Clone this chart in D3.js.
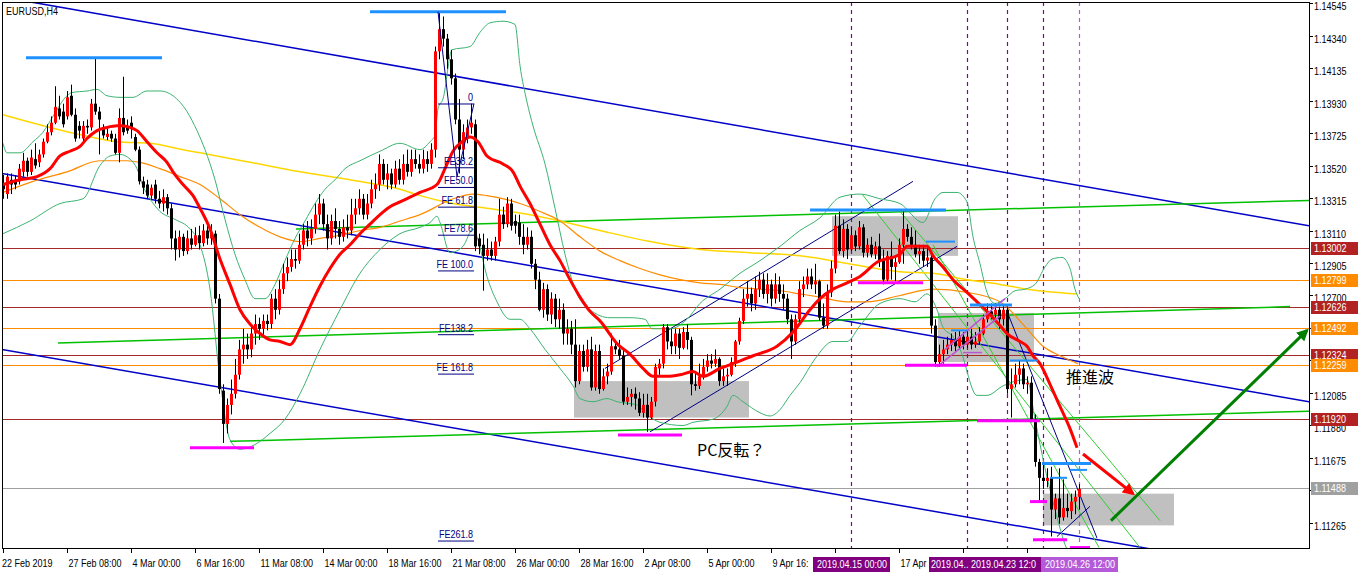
<!DOCTYPE html>
<html><head><meta charset="utf-8">
<script src="https://cdn.jsdelivr.net/npm/d3@7"></script>
<style>body{margin:0;background:#fff;}svg{display:block;}</style>
</head><body><svg id="c" width="1362" height="576"></svg>
<script>
// ---------- DATA ----------
const open=[
1.1340,1.1334,1.1343,1.1343,1.1342,1.1348,1.1355,1.1348,1.1356,1.1354,
1.1359,1.1367,1.1373,1.1379,1.1388,1.1386,1.1383,1.1396,1.1384,1.1377,
1.1369,1.1377,1.1376,1.1391,1.1386,1.1376,1.1370,1.1372,1.1369,1.1360,
1.1382,1.1377,1.1379,1.1370,1.1362,1.1342,1.1340,1.1333,1.1340,1.1331,
1.1328,1.1332,1.1325,1.1306,1.1299,1.1307,1.1298,1.1306,1.1302,1.1308,
1.1303,1.1311,1.1306,1.1309,1.1268,1.1210,1.1189,1.1201,1.1208,1.1220,
1.1236,1.1239,1.1236,1.1246,1.1252,1.1249,1.1254,1.1252,1.1268,1.1261,
1.1274,1.1284,1.1288,1.1293,1.1292,1.1302,1.1311,1.1306,1.1312,1.1321,
1.1328,1.1315,1.1306,1.1317,1.1312,1.1307,1.1313,1.1311,1.1321,1.1325,
1.1331,1.1321,1.1328,1.1337,1.1340,1.1353,1.1343,1.1347,1.1340,1.1350,
1.1343,1.1353,1.1348,1.1356,1.1353,1.1350,1.1356,1.1353,1.1362,1.1424,
1.1438,1.1432,1.1419,1.1407,1.1381,1.1362,1.1370,1.1376,1.1378,1.1306,
1.1302,1.1295,1.1299,1.1295,1.1304,1.1321,1.1315,1.1328,1.1317,1.1316,
1.1307,1.1302,1.1307,1.1290,1.1280,1.1261,1.1274,1.1258,1.1268,1.1255,
1.1261,1.1246,1.1249,1.1239,1.1216,1.1235,1.1225,1.1236,1.1212,1.1235,
1.1211,1.1219,1.1222,1.1238,1.1236,1.1232,1.1203,1.1206,1.1208,1.1205,
1.1196,1.1201,1.1193,1.1203,1.1224,1.1227,1.1250,1.1241,1.1238,1.1246,
1.1237,1.1247,1.1242,1.1214,1.1213,1.1219,1.1225,1.1229,1.1227,1.1230,
1.1216,1.1219,1.1220,1.1228,1.1241,1.1254,1.1268,1.1271,1.1265,1.1274,
1.1280,1.1271,1.1277,1.1268,1.1277,1.1271,1.1268,1.1255,1.1241,1.1255,
1.1274,1.1277,1.1282,1.1277,1.1279,1.1256,1.1251,1.1272,1.1287,1.1314,
1.1298,1.1312,1.1299,1.1308,1.1301,1.1313,1.1297,1.1302,1.1296,1.1301,
1.1292,1.1280,1.1295,1.1288,1.1291,1.1302,1.1312,1.1307,1.1302,1.1296,
1.1298,1.1292,1.1294,1.1251,1.1228,1.1233,1.1236,1.1239,1.1242,1.1238,
1.1244,1.1239,1.1244,1.1239,1.1241,1.1246,1.1255,1.1260,1.1258,1.1261,
1.1255,1.1261,1.1211,1.1214,1.1220,1.1224,1.1214,1.1215,1.1192,1.1165,
1.1155,1.1153,1.1155,1.1135,1.1142,1.1130,1.1136,1.1134,1.1140,1.1143];
const high=[
1.1346,1.1347,1.1347,1.1346,1.1353,1.1360,1.1357,1.1362,1.1366,1.1362,
1.1369,1.1378,1.1383,1.1402,1.1396,1.1391,1.1399,1.1403,1.1388,1.1380,
1.1380,1.1381,1.1394,1.1420,1.1389,1.1378,1.1375,1.1374,1.1372,1.1388,
1.1408,1.1381,1.1383,1.1372,1.1364,1.1345,1.1343,1.1340,1.1343,1.1336,
1.1337,1.1334,1.1328,1.1311,1.1311,1.1309,1.1311,1.1312,1.1313,1.1314,
1.1315,1.1316,1.1315,1.1311,1.1271,1.1214,1.1205,1.1217,1.1230,1.1242,
1.1249,1.1246,1.1252,1.1258,1.1256,1.1258,1.1258,1.1271,1.1274,1.1280,
1.1290,1.1294,1.1299,1.1299,1.1309,1.1315,1.1317,1.1318,1.1328,1.1334,
1.1331,1.1321,1.1321,1.1325,1.1317,1.1318,1.1321,1.1331,1.1331,1.1337,
1.1334,1.1334,1.1343,1.1347,1.1359,1.1356,1.1353,1.1350,1.1355,1.1356,
1.1359,1.1362,1.1362,1.1362,1.1359,1.1362,1.1361,1.1366,1.1427,1.1449,
1.1446,1.1435,1.1425,1.1410,1.1394,1.1378,1.1381,1.1391,1.1381,1.1309,
1.1309,1.1306,1.1304,1.1307,1.1331,1.1326,1.1332,1.1331,1.1321,1.1321,
1.1315,1.1313,1.1311,1.1293,1.1285,1.1278,1.1277,1.1272,1.1271,1.1268,
1.1265,1.1255,1.1254,1.1255,1.1239,1.1239,1.1242,1.1244,1.1239,1.1239,
1.1224,1.1227,1.1246,1.1242,1.1242,1.1236,1.1212,1.1211,1.1212,1.1209,
1.1208,1.1208,1.1206,1.1227,1.1230,1.1252,1.1252,1.1249,1.1249,1.1249,
1.1250,1.1252,1.1244,1.1222,1.1227,1.1230,1.1233,1.1233,1.1236,1.1231,
1.1224,1.1224,1.1231,1.1242,1.1256,1.1274,1.1279,1.1275,1.1282,1.1285,
1.1284,1.1284,1.1280,1.1284,1.1282,1.1277,1.1271,1.1258,1.1258,1.1279,
1.1282,1.1287,1.1287,1.1290,1.1280,1.1265,1.1277,1.1292,1.1321,1.1323,
1.1318,1.1315,1.1313,1.1311,1.1317,1.1315,1.1306,1.1307,1.1304,1.1309,
1.1299,1.1298,1.1304,1.1294,1.1306,1.1323,1.1315,1.1313,1.1311,1.1302,
1.1302,1.1301,1.1296,1.1255,1.1239,1.1242,1.1244,1.1246,1.1247,1.1248,
1.1247,1.1248,1.1249,1.1247,1.1250,1.1258,1.1265,1.1265,1.1265,1.1263,
1.1264,1.1263,1.1224,1.1227,1.1229,1.1227,1.1219,1.1219,1.1195,1.1167,
1.1164,1.1161,1.1162,1.1145,1.1161,1.1154,1.1145,1.1145,1.1147,1.1151];
const low=[
1.1331,1.1331,1.1334,1.1337,1.1340,1.1345,1.1345,1.1346,1.1350,1.1351,
1.1357,1.1366,1.1371,1.1378,1.1381,1.1376,1.1381,1.1383,1.1367,1.1369,
1.1367,1.1372,1.1374,1.1384,1.1359,1.1369,1.1368,1.1367,1.1359,1.1354,
1.1371,1.1372,1.1369,1.1361,1.1340,1.1334,1.1331,1.1331,1.1328,1.1325,
1.1323,1.1321,1.1299,1.1292,1.1294,1.1295,1.1296,1.1299,1.1301,1.1299,
1.1301,1.1302,1.1302,1.1265,1.1208,1.1177,1.1183,1.1195,1.1205,1.1217,
1.1227,1.1230,1.1231,1.1239,1.1242,1.1244,1.1248,1.1249,1.1255,1.1258,
1.1271,1.1279,1.1285,1.1287,1.1290,1.1299,1.1301,1.1302,1.1309,1.1315,
1.1311,1.1299,1.1302,1.1306,1.1302,1.1304,1.1306,1.1308,1.1315,1.1321,
1.1318,1.1318,1.1325,1.1331,1.1336,1.1340,1.1337,1.1337,1.1338,1.1340,
1.1340,1.1345,1.1345,1.1350,1.1347,1.1347,1.1348,1.1350,1.1357,1.1419,
1.1427,1.1413,1.1403,1.1378,1.1347,1.1356,1.1366,1.1372,1.1298,1.1296,
1.1273,1.1292,1.1292,1.1292,1.1301,1.1312,1.1313,1.1311,1.1309,1.1302,
1.1296,1.1299,1.1287,1.1274,1.1260,1.1256,1.1254,1.1252,1.1250,1.1249,
1.1239,1.1239,1.1233,1.1212,1.1214,1.1222,1.1222,1.1210,1.1210,1.1208,
1.1210,1.1214,1.1220,1.1233,1.1230,1.1201,1.1201,1.1200,1.1198,1.1194,
1.1193,1.1184,1.1192,1.1200,1.1220,1.1224,1.1236,1.1233,1.1233,1.1230,
1.1236,1.1236,1.1207,1.1210,1.1211,1.1217,1.1222,1.1224,1.1225,1.1213,
1.1213,1.1213,1.1219,1.1225,1.1239,1.1252,1.1263,1.1260,1.1261,1.1269,
1.1268,1.1265,1.1263,1.1265,1.1266,1.1261,1.1252,1.1230,1.1239,1.1252,
1.1269,1.1274,1.1274,1.1271,1.1254,1.1249,1.1249,1.1269,1.1284,1.1296,
1.1294,1.1293,1.1298,1.1298,1.1299,1.1294,1.1294,1.1294,1.1293,1.1288,
1.1277,1.1279,1.1280,1.1279,1.1290,1.1290,1.1304,1.1299,1.1294,1.1290,
1.1288,1.1288,1.1246,1.1225,1.1225,1.1227,1.1233,1.1235,1.1235,1.1236,
1.1236,1.1237,1.1236,1.1237,1.1239,1.1245,1.1253,1.1255,1.1256,1.1249,
1.1251,1.1208,1.1193,1.1212,1.1214,1.1211,1.1208,1.1190,1.1162,1.1140,
1.1148,1.1149,1.1118,1.1129,1.1126,1.1128,1.1130,1.1129,1.1132,1.1135];
const close=[
1.1337,1.1345,1.1340,1.1340,1.1350,1.1355,1.1348,1.1357,1.1352,1.1359,
1.1367,1.1373,1.1379,1.1389,1.1383,1.1378,1.1395,1.1384,1.1369,1.1374,
1.1377,1.1376,1.1391,1.1386,1.1381,1.1371,1.1372,1.1369,1.1360,1.1382,
1.1373,1.1374,1.1375,1.1362,1.1342,1.1338,1.1333,1.1338,1.1331,1.1328,
1.1332,1.1325,1.1306,1.1299,1.1307,1.1298,1.1306,1.1302,1.1308,1.1303,
1.1311,1.1306,1.1309,1.1268,1.1211,1.1189,1.1201,1.1208,1.1220,1.1236,
1.1239,1.1236,1.1246,1.1252,1.1249,1.1254,1.1252,1.1268,1.1261,1.1274,
1.1284,1.1288,1.1293,1.1292,1.1302,1.1311,1.1306,1.1312,1.1321,1.1328,
1.1315,1.1306,1.1317,1.1312,1.1307,1.1313,1.1311,1.1321,1.1325,1.1331,
1.1321,1.1328,1.1337,1.1340,1.1353,1.1343,1.1347,1.1340,1.1350,1.1343,
1.1353,1.1348,1.1356,1.1353,1.1350,1.1356,1.1353,1.1362,1.1424,1.1438,
1.1432,1.1419,1.1407,1.1381,1.1362,1.1373,1.1376,1.1379,1.1301,1.1301,
1.1295,1.1299,1.1295,1.1304,1.1321,1.1315,1.1328,1.1314,1.1314,1.1307,
1.1302,1.1307,1.1290,1.1280,1.1261,1.1274,1.1258,1.1268,1.1255,1.1261,
1.1246,1.1249,1.1239,1.1216,1.1235,1.1225,1.1236,1.1212,1.1235,1.1211,
1.1219,1.1222,1.1238,1.1236,1.1232,1.1203,1.1206,1.1208,1.1205,1.1196,
1.1201,1.1193,1.1203,1.1225,1.1227,1.1250,1.1241,1.1238,1.1246,1.1237,
1.1247,1.1242,1.1214,1.1213,1.1219,1.1225,1.1229,1.1227,1.1230,1.1216,
1.1219,1.1220,1.1228,1.1241,1.1254,1.1268,1.1271,1.1265,1.1274,1.1280,
1.1271,1.1277,1.1268,1.1277,1.1271,1.1268,1.1255,1.1241,1.1255,1.1274,
1.1277,1.1282,1.1277,1.1279,1.1256,1.1251,1.1272,1.1287,1.1314,1.1298,
1.1312,1.1299,1.1308,1.1301,1.1313,1.1297,1.1302,1.1296,1.1301,1.1292,
1.1280,1.1295,1.1288,1.1291,1.1302,1.1312,1.1307,1.1302,1.1296,1.1298,
1.1292,1.1294,1.1251,1.1228,1.1233,1.1236,1.1239,1.1242,1.1238,1.1244,
1.1239,1.1244,1.1239,1.1241,1.1246,1.1255,1.1260,1.1258,1.1261,1.1255,
1.1261,1.1211,1.1214,1.1220,1.1224,1.1214,1.1215,1.1192,1.1165,1.1155,
1.1153,1.1155,1.1135,1.1142,1.1130,1.1136,1.1134,1.1140,1.1143,1.1148];

// indicator lines: [bar index, price]
const maRed=[[0,1.1340],[4.25,1.1343],[8.5,1.1345],[11.75,1.1350],[14.25,1.1358],[16.75,1.1361],[19.25,1.1364],[21,1.1369],[23.5,1.1374],[26,1.1376],[28.5,1.1377],[29.75,1.1377],[31.75,1.1376],[33.5,1.1374],[36,1.1367],[38.5,1.1360],[41,1.1354],[42.5,1.1348],[45,1.1340],[47.5,1.1333],[49.25,1.1325],[51.75,1.1312],[54.25,1.1293],[56.75,1.1277],[59.25,1.1261],[61.75,1.1252],[64.25,1.1246],[66.75,1.1242],[69.25,1.1241],[71.75,1.1239],[74.25,1.1249],[76.75,1.1263],[79.25,1.1276],[81.75,1.1287],[84.25,1.1296],[86.75,1.1302],[89.25,1.1309],[91.75,1.1315],[94.25,1.1321],[96.75,1.1326],[99.25,1.1329],[101.75,1.1332],[104.25,1.1335],[108.5,1.1340],[110.5,1.1350],[112.5,1.1361],[114.75,1.1367],[116.75,1.1370],[118.75,1.1367],[121,1.1358],[125,1.1353],[127.5,1.1348],[129.25,1.1339],[131.75,1.1328],[134.25,1.1315],[136.75,1.1302],[139.25,1.1292],[141.75,1.1280],[144.25,1.1269],[146.75,1.1260],[149.25,1.1254],[153.75,1.1239],[156.75,1.1233],[160,1.1224],[162.5,1.1219],[166,1.1219],[169.25,1.1220],[172.5,1.1222],[175,1.1219],[179.25,1.1224],[183.5,1.1228],[187.5,1.1232],[193.5,1.1238],[197.5,1.1247],[201.75,1.1261],[204.25,1.1268],[207.5,1.1274],[211,1.1278],[214.25,1.1282],[218.5,1.1291],[224.25,1.1296],[226,1.1301],[231,1.1301],[232.5,1.1295],[235,1.1288],[237.5,1.1280],[241,1.1272],[243.5,1.1266],[246,1.1260],[249.25,1.1251],[251,1.1246],[254.25,1.1241],[256,1.1238],[257.5,1.1232],[259.25,1.1227],[261.75,1.1214],[264.25,1.1200],[266.75,1.1186],[268.5,1.1174]];
const bbUpper=[[0,1.1366],[1,1.1360],[4.25,1.1360],[7.5,1.1367],[10,1.1373],[12.5,1.1383],[16,1.1396],[17.25,1.1398],[21,1.1399],[23.5,1.1400],[26,1.1396],[29.25,1.1395],[32.5,1.1395],[36,1.1399],[39.25,1.1399],[42.5,1.1396],[46,1.1386],[48.5,1.1374],[50.5,1.1362],[53,1.1343],[55.5,1.1318],[58,1.1296],[60.5,1.1280],[63,1.1268],[65.5,1.1268],[68,1.1277],[70.5,1.1292],[73,1.1306],[75.5,1.1317],[78,1.1328],[80.5,1.1337],[83,1.1343],[85.5,1.1350],[89.25,1.1355],[94.25,1.1361],[99.25,1.1366],[104.25,1.1362],[106.75,1.1367],[108,1.1371],[108.75,1.1388],[110,1.1394],[112.25,1.1425],[116.75,1.1427],[119.25,1.1436],[121.75,1.1442],[125,1.1443],[128,1.1441],[129.25,1.1415],[131,1.1392],[132.5,1.1377],[135.5,1.1353],[138,1.1325],[140.5,1.1296],[143,1.1274],[146.75,1.1261],[151.75,1.1256],[156.75,1.1256],[160.5,1.1255],[162.25,1.1249],[166.75,1.1249],[171,1.1255],[174.25,1.1265],[179.25,1.1274],[184.25,1.1284],[189.25,1.1292],[194.25,1.1301],[199.25,1.1311],[204.25,1.1319],[209.25,1.1332],[214.25,1.1334],[219.25,1.1331],[224.25,1.1328],[230,1.1316],[233,1.1331],[235,1.1335],[238.5,1.1335],[241,1.1329],[242.5,1.1307],[244.25,1.1290],[246,1.1272],[248,1.1265],[250.5,1.1268],[253,1.1273],[255.5,1.1274],[258,1.1277],[260.5,1.1288],[262.25,1.1293],[264.75,1.1294],[266.75,1.1287],[268,1.1274],[269,1.1268]];
const bbLower=[[0,1.1309],[6.75,1.1317],[14.25,1.1328],[20,1.1331],[24.25,1.1352],[26.75,1.1358],[29.25,1.1359],[31.75,1.1356],[33.5,1.1350],[35,1.1339],[36.75,1.1331],[39.25,1.1323],[43,1.1318],[46.75,1.1312],[49.25,1.1302],[51.75,1.1274],[54.25,1.1217],[56.75,1.1179],[59.25,1.1173],[63,1.1176],[66.75,1.1183],[70.5,1.1192],[74.25,1.1208],[79.25,1.1236],[84.25,1.1261],[89.25,1.1284],[94.25,1.1299],[99.25,1.1309],[104.25,1.1313],[106.75,1.1316],[108.5,1.1320],[109.25,1.1316],[111.75,1.1297],[115,1.1301],[117.5,1.1312],[118.5,1.1307],[121,1.1282],[123.5,1.1266],[126.75,1.1255],[129.25,1.1255],[131.75,1.1249],[135.5,1.1236],[139.25,1.1224],[142.5,1.1213],[144.25,1.1205],[147.5,1.1203],[151,1.1205],[153.5,1.1203],[158.5,1.1201],[161,1.1195],[164.25,1.1190],[170,1.1188],[172.5,1.1190],[177.5,1.1192],[181,1.1200],[182.5,1.1207],[185,1.1203],[189.25,1.1196],[191.75,1.1194],[194.25,1.1198],[196.75,1.1207],[199.25,1.1215],[203,1.1230],[207.5,1.1241],[211,1.1241],[214.25,1.1251],[219.25,1.1265],[224.25,1.1268],[228,1.1266],[231,1.1271],[233.5,1.1261],[235,1.1250],[237.5,1.1244],[239.25,1.1236],[243.5,1.1207],[246,1.1207],[250,1.1213],[256,1.1217],[258,1.1192],[260.5,1.1161],[263,1.1135],[265.5,1.1113],[269,1.1097]];
const maOrange=[[0,1.1335],[7.5,1.1342],[16,1.1348],[24.25,1.1355],[31,1.1355],[34.25,1.1354],[39.25,1.1350],[44.25,1.1345],[49.25,1.1340],[54.25,1.1331],[59.25,1.1321],[64.25,1.1313],[69.25,1.1307],[74.25,1.1304],[79.25,1.1306],[84.25,1.1308],[89.25,1.1311],[94.25,1.1313],[99.25,1.1317],[104.25,1.1321],[112.5,1.1331],[117.5,1.1334],[121,1.1333],[129.25,1.1328],[134.25,1.1323],[139.25,1.1317],[144.25,1.1307],[149.25,1.1298],[154.25,1.1292],[159.25,1.1287],[164.25,1.1283],[169.25,1.1280],[174.25,1.1278],[179.25,1.1277],[184.25,1.1275],[189.25,1.1274],[194.25,1.1273],[199.25,1.1271],[204.25,1.1269],[211,1.1266],[216,1.1266],[224.25,1.1270],[232.5,1.1274],[241,1.1272],[249.25,1.1266],[256,1.1249],[260,1.1238],[264.25,1.1232],[268.75,1.1227]];
const maYellow=[[0,1.1384],[4.25,1.1381],[11.75,1.1376],[20,1.1371],[28.5,1.1367],[36.75,1.1366],[45,1.1362],[49.25,1.1360],[61.75,1.1354],[74.25,1.1348],[86.75,1.1343],[99.25,1.1337],[104.25,1.1333],[112.5,1.1328],[121,1.1325],[129.25,1.1322],[139.25,1.1317],[149.25,1.1311],[161.75,1.1304],[174.25,1.1299],[186.75,1.1297],[199.25,1.1295],[216,1.1288],[224.25,1.1285],[232.5,1.1284],[241,1.1280],[249.25,1.1277],[256,1.1274],[268.5,1.1271]];

const timeTickBars=[0,16,32,48,64,80,96,112,128,144,160,176,192,208,224,240,256];
// labels as visible in the chart (the rest lie under the date boxes)
const timeTickLabels=["22 Feb 2019","27 Feb 08:00","4 Mar 00:00","6 Mar 16:00","11 Mar 08:00","14 Mar 00:00","18 Mar 16:00","21 Mar 08:00","26 Mar 00:00","28 Mar 16:00","2 Apr 08:00","5 Apr 00:00","9 Apr 16:","","17 Apr","",""];
const priceTicks=[1.14545,1.14340,1.14135,1.13930,1.13725,1.13520,1.13315,1.13110,1.12905,1.12700,1.12495,1.12290,1.12085,1.11880,1.11675,1.11470,1.11265];
const levelPrices=[1.13002,1.12799,1.12626,1.12492,1.12324,1.12259,1.11920,1.11488];
const levelKinds=["r","o","r","o","r","o","r","g"];
// vertical time lines, in drawing order; shown = part of the label left visible
const vlineBars=[212,241,260,251,269];
const vlineShown=["2019.04.15 00:00","2019.04..","","2019.04.23 12:0","2019.04.26 12:00"];
const vlineKinds=["d","d","d","d","l"];
const feLevels=[0,38.2,50,61.8,78.6,100,138.2,161.8,261.8];
const feLabels=["0","FE38.2","FE50.0","FE 61.8","FE78.6","FE 100.0","FE138.2","FE 161.8","FE261.8"];
const feBase=[1.13908,1.12855];
const feSpan=[108.75,117.75];
const feWave=[[108.75,1.1449],[113.5,1.1345],[117.75,1.1391]];
const channelLines=[[[7.25,1.1455],[326.5,1.1314]],[[-0.25,1.1347],[326.5,1.1203]],[[-0.25,1.1236],[291.75,1.1108]]];
const navyLines=[[[150.5,1.1224],[227.5,1.1342]],[[161.75,1.1184],[238.5,1.1301]],[[251,1.1260],[273.5,1.1117]],[[263.5,1.1118],[271.75,1.1137]]];
const greenLines=[[[73.25,1.1312],[326.5,1.1330]],[[13.75,1.1240],[321.75,1.1263]],[[56.75,1.1178],[326.5,1.1197]]];
const limeLines=[[[214.75,1.1334],[284.25,1.1111]],[[224.25,1.1323],[289.25,1.1128]],[[232.5,1.1302],[274,1.1111]]];
const boxes=[[142.75,186.5,1.1216,1.1193],[207.25,238.75,1.1320,1.1295],[233.75,257.75,1.1259,1.1228],[260,292.75,1.1145,1.1125]];
const blueSegs=[[5.75,39.75,1.1420],[91.75,125.75,1.1449],[201.75,235.75,1.1324],[241.75,252.25,1.1264],[259.75,272,1.1164]];
const skySegs=[[230.75,238,1.1304],[237,241,1.1248],[251.75,258.75,1.1229],[266.75,271,1.1160],[261.75,266,1.1155]];
const magSegs=[[46.75,62.75,1.1174],[153.75,169.75,1.1182],[213.75,230,1.1278],[225.5,241,1.1226],[243.5,259.25,1.1191],[256.75,261,1.1140],[257.5,266,1.1116],[266.75,271.75,1.1111]];
const orchidLines=[[[240,1.1234],[244.75,1.1234]],[[233.5,1.1225],[249.25,1.1257]],[[235.5,1.1236],[250.5,1.1268]]];
const redArrow=[[270,1.1170],[282.5,1.1145]];
const greenArrow=[[277,1.1128],[326,1.1248]];
const notes=[{t:"推進波",i:265.75,p:1.1215},{t:"PC反転？",i:173.5,p:1.1169}];

// ---------- DRAW ----------
const W=1362,H=576,X0=2,Y0=2,X1=1309,Y1=548;
const svg=d3.select('#c');
const x=d3.scaleLinear().domain([0,326]).range([3,1307]);
const y=d3.scaleLinear().domain([1.14545,1.11265]).range([3,523]);
svg.append('rect').attr('width',W).attr('height',H).attr('fill','#fff');
const defs=svg.append('defs');
defs.append('clipPath').attr('id','clip').append('rect').attr('x',X0).attr('y',Y0).attr('width',X1-X0).attr('height',Y1-Y0);
function marker(id,col){defs.append('marker').attr('id',id).attr('viewBox','0 0 10 10').attr('refX',8).attr('refY',5)
 .attr('markerWidth',4).attr('markerHeight',4).attr('orient','auto').attr('markerUnits','strokeWidth')
 .append('path').attr('d','M0,0L10,5L0,10z').attr('fill',col);}
marker('ar','#ff0000');marker('ag','#008000');
const g=svg.append('g').attr('clip-path','url(#clip)');
const ff='"Liberation Sans",Arial,sans-serif';
function mtText(par,tx,ty,str,col,anchor){
  return par.append('text').attr('transform',`translate(${tx},${ty}) scale(0.82,1)`).attr('font-family',ff)
   .attr('font-size',11).attr('fill',col||'#000').attr('text-anchor',anchor||'start').text(str);}
function seg(a,b,col,w,dash,mk){const l=g.append('line').attr('x1',x(a[0])).attr('y1',y(a[1])).attr('x2',x(b[0])).attr('y2',y(b[1]))
  .attr('stroke',col).attr('stroke-width',w);if(dash)l.attr('stroke-dasharray',dash);if(mk)l.attr('marker-end',`url(#${mk})`);return l;}

// boxes (background)
boxes.forEach(b=>g.append('rect').attr('x',x(b[0])).attr('y',y(b[2])).attr('width',x(b[1])-x(b[0])).attr('height',y(b[3])-y(b[2])).attr('fill','#c0c0c0'));

// horizontal level lines
const lvlCol={r:'#a52a2a',o:'#ff8c00',g:'#a0a0a0'};
levelPrices.forEach((p,k)=>g.append('line').attr('x1',X0).attr('x2',X1).attr('y1',Math.round(y(p))+0.5).attr('y2',Math.round(y(p))+0.5).attr('stroke',lvlCol[levelKinds[k]]).attr('stroke-width',1));

// vertical dashed lines
const vCol={d:'#8b008b',l:'#b45ad8'};
vlineBars.forEach((b,k)=>g.append('line').attr('x1',Math.round(x(b))+0.5).attr('x2',Math.round(x(b))+0.5).attr('y1',Y0).attr('y2',Y1)
  .attr('stroke',vCol[vlineKinds[k]]).attr('stroke-width',1.2).attr('stroke-dasharray','4,4'));

// long trend lines
channelLines.forEach(l=>seg(l[0],l[1],'#0000c8',1.5));
greenLines.forEach(l=>seg(l[0],l[1],'#00c000',1.5));
limeLines.forEach(l=>seg(l[0],l[1],'#32cd32',1));
navyLines.forEach(l=>seg(l[0],l[1],'#000080',1));

// indicators
const ln=d3.line().x(d=>x(d[0])).y(d=>y(d[1])).curve(d3.curveMonotoneX);
g.append('path').attr('d',ln(maYellow)).attr('fill','none').attr('stroke','#ffd700').attr('stroke-width',1.5);
g.append('path').attr('d',ln(maOrange)).attr('fill','none').attr('stroke','#ff8c00').attr('stroke-width',1.2);
g.append('path').attr('d',ln(bbUpper)).attr('fill','none').attr('stroke','#3cb371').attr('stroke-width',1);
g.append('path').attr('d',ln(bbLower)).attr('fill','none').attr('stroke','#3cb371').attr('stroke-width',1);

// candles
const cg=g.append('g');
open.forEach((o,i)=>{
  const xc=Math.round(x(i)), c=close[i], bull=c>o;
  cg.append('line').attr('x1',xc+0.5).attr('x2',xc+0.5).attr('y1',y(high[i])).attr('y2',y(low[i])).attr('stroke','#000').attr('stroke-width',1);
  const t=Math.min(y(o),y(c)), h=Math.max(1,Math.abs(y(o)-y(c)));
  cg.append('rect').attr('x',xc-1).attr('width',3).attr('y',t).attr('height',h).attr('fill',bull?'#ff0000':'#000');
});

// red MA on top of candles
g.append('path').attr('d',ln(maRed)).attr('fill','none').attr('stroke','#ff0000').attr('stroke-width',3);

// orchid lines
orchidLines.forEach(l=>seg(l[0],l[1],'#ba55d3',1.5));
// segments
blueSegs.forEach(s=>seg([s[0],s[2]],[s[1],s[2]],'#1e90ff',3));
skySegs.forEach(s=>seg([s[0],s[2]],[s[1],s[2]],'#1e90ff',2));
magSegs.forEach(s=>seg([s[0],s[2]],[s[1],s[2]],'#ff00ff',3));

// Fibonacci expansion
seg(feWave[0],feWave[1],'#000080',1);seg(feWave[1],feWave[2],'#000080',1);
feLevels.forEach((lv,k)=>{
  const p=feBase[0]+(feBase[1]-feBase[0])*lv/100;
  seg([feSpan[0],p],[feSpan[1],p],'#000080',1);
  mtText(g,x(feSpan[1])-1,y(p)-3,feLabels[k],'#000080','end');
});

// arrows
seg(redArrow[0],redArrow[1],'#ff0000',3,null,'ar');
seg(greenArrow[0],greenArrow[1],'#008000',3,null,'ag');

// notes
notes.forEach(n=>g.append('text').attr('x',x(n.i)).attr('y',y(n.p)).attr('font-family','"Noto Sans CJK JP",sans-serif').attr('font-size',16).attr('fill','#000').text(n.t));

// title
mtText(svg,6,15,'EURUSD,H4','#000');

// frame
svg.append('rect').attr('x',X0+0.5).attr('y',Y0+0.5).attr('width',X1-X0).attr('height',Y1-Y0).attr('fill','none').attr('stroke','#000');

// price axis: a tick label wholly under a level box is not drawn (as in the original)
const boxRows=levelPrices.map(p=>Math.round(y(p)));
function covered(yy){for(let r=yy-3;r<=yy+3;r++){if(!boxRows.some(c=>r>=c-6&&r<=c+6))return false;}return true;}
priceTicks.forEach(p=>{const yy=Math.round(y(p))+0.5;
  svg.append('line').attr('x1',X1).attr('x2',X1+4).attr('y1',yy).attr('y2',yy).attr('stroke','#000');
  if(!covered(Math.round(y(p))+1)) mtText(svg,X1+5,yy+6,p.toFixed(5),'#000');});
const boxCol={r:'#b22222',o:'#ff8c00',g:'#a0a0a0'};
levelPrices.forEach((p,k)=>{const yy=Math.round(y(p));
  svg.append('rect').attr('x',X1+2).attr('y',yy-6).attr('width',47).attr('height',13).attr('fill',boxCol[levelKinds[k]]);
  mtText(svg,X1+5,yy+4,p.toFixed(5),'#fff');});

// time axis
timeTickBars.forEach((b,k)=>{const xx=Math.round(x(b))+0.5;
  svg.append('line').attr('x1',xx).attr('x2',xx).attr('y1',Y1).attr('y2',Y1+5).attr('stroke','#000');
  if(timeTickLabels[k]) mtText(svg,k===0?2:xx+1,567,timeTickLabels[k],'#000');});
const boxColB={d:'#800080',l:'#b45ad8'};
vlineBars.forEach((b,k)=>{const xx=Math.round(x(b));
  svg.append('rect').attr('x',xx-38).attr('y',557).attr('width',77).attr('height',15).attr('fill',boxColB[vlineKinds[k]]);});
vlineBars.forEach((b,k)=>{const xx=Math.round(x(b)); const s=vlineShown[k];
  if(!s) return;
  if(s.length<16) mtText(svg,xx-36,568,s,'#fff');
  else mtText(svg,xx+1,568,s,'#fff','middle');});
</script></body></html>
